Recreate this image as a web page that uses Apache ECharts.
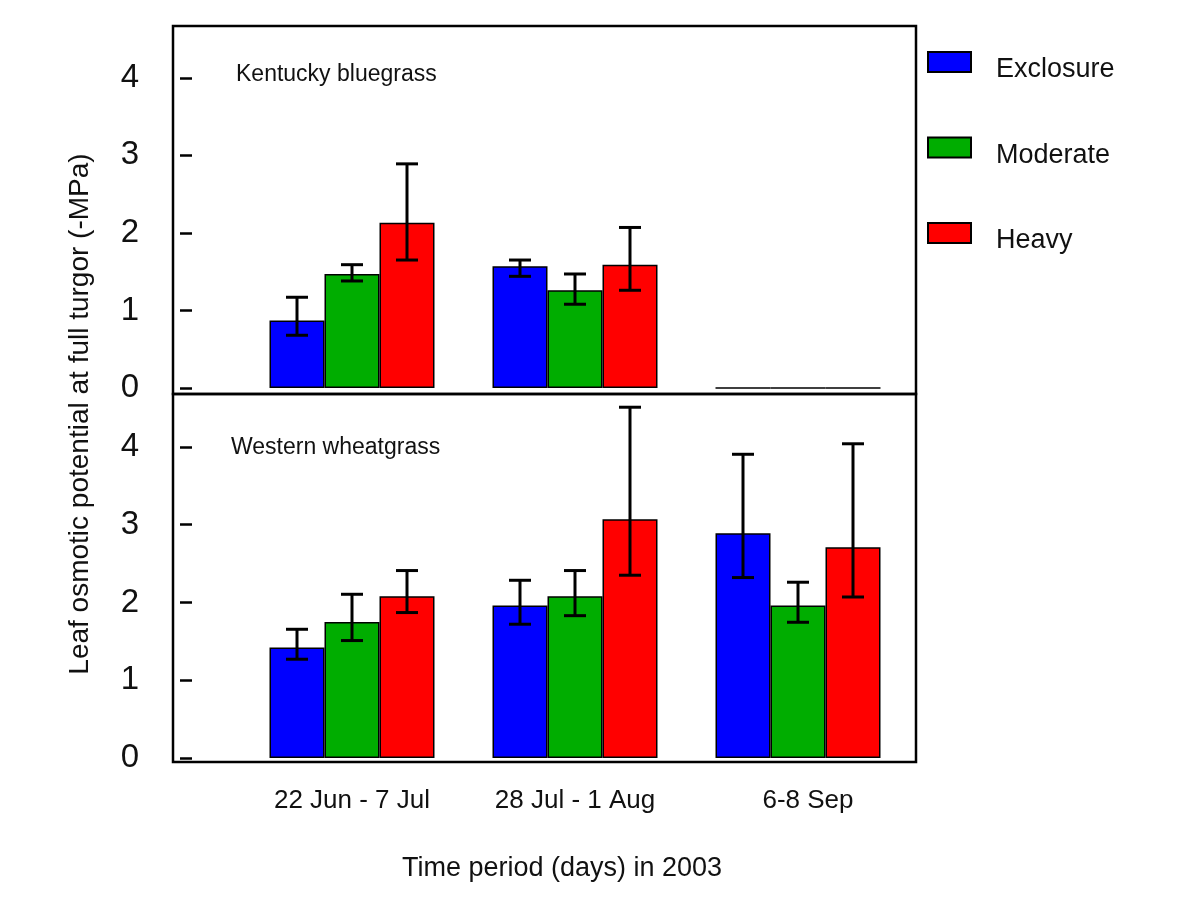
<!DOCTYPE html>
<html>
<head>
<meta charset="utf-8">
<title>Leaf osmotic potential at full turgor</title>
<script src="https://cdn.jsdelivr.net/npm/echarts@6/dist/echarts.min.js"></script>
<style>
  html, body { margin: 0; padding: 0; background: #fff; }
  #chart { width: 1204px; height: 898px; }
</style>
</head>
<body>
<div id="chart"></div>
<script>
// Sampling periods and grazing treatments
const categories = ['22 Jun - 7 Jul', '28 Jul - 1 Aug', '6-8 Sep'];
const treatments = ['Exclosure', 'Moderate', 'Heavy'];
const yTicks = [0, 1, 2, 3, 4];

// Kentucky bluegrass: means (-MPa)
const kbExclosure = [0.87, 1.57, 0];
const kbModerate  = [1.47, 1.26, 0];
const kbHeavy     = [2.13, 1.59, 0];
// Kentucky bluegrass: error bar [low, high]
const kbExclosureErr = [[0.68, 1.17], [1.44, 1.65], null];
const kbModerateErr  = [[1.38, 1.59], [1.08, 1.47], null];
const kbHeavyErr     = [[1.65, 2.89], [1.26, 2.07], null];

// Western wheatgrass: means (-MPa)
const wwExclosure = [1.42, 1.96, 2.89];
const wwModerate  = [1.75, 2.08, 1.96];
const wwHeavy     = [2.08, 3.07, 2.71];
// Western wheatgrass: error bar [low, high]
const wwExclosureErr = [[1.27, 1.655], [1.72, 2.285], [2.32, 3.905]];
const wwModerateErr  = [[1.51, 2.105], [1.83, 2.41], [1.745, 2.26]];
const wwHeavyErr     = [[1.87, 2.41], [2.35, 4.51], [2.07, 4.04]];

const colors = ['#0000FF', '#00AD00', '#FF0000'];
const BAR_W = 55;
const FONT = '"Liberation Sans", Arial, sans-serif';
const TEXT = '#111';

function barSeries(name, data, idx, axisIdx) {
  return {
    type: 'bar',
    name: name,
    xAxisIndex: axisIdx,
    yAxisIndex: axisIdx,
    data: data,
    barWidth: BAR_W,
    barGap: '0%',
    itemStyle: { color: colors[idx], borderColor: '#000', borderWidth: 1.5 },
    emphasis: { disabled: true },
    silent: true
  };
}

function errSeries(errs, idx, axisIdx) {
  const data = [];
  errs.forEach(function (e, i) { if (e) data.push([i, e[0], e[1]]); });
  const offset = (idx - 1) * BAR_W;
  return {
    type: 'custom',
    xAxisIndex: axisIdx,
    yAxisIndex: axisIdx,
    data: data,
    silent: true,
    z: 5,
    renderItem: function (params, api) {
      const lo = api.coord([api.value(0), api.value(1)]);
      const hi = api.coord([api.value(0), api.value(2)]);
      const x = lo[0] + offset;
      const cap = 11;
      const st = { stroke: '#000', lineWidth: 3 };
      return {
        type: 'group',
        children: [
          { type: 'line', shape: { x1: x, y1: lo[1], x2: x, y2: hi[1] }, style: st },
          { type: 'line', shape: { x1: x - cap, y1: hi[1], x2: x + cap, y2: hi[1] }, style: st },
          { type: 'line', shape: { x1: x - cap, y1: lo[1], x2: x + cap, y2: lo[1] }, style: st }
        ]
      };
    }
  };
}

function valueAxis(gridIndex) {
  return {
    type: 'value',
    gridIndex: gridIndex,
    min: 0,
    max: 4.5,
    position: 'left',
    offset: 60.5,
    splitLine: { show: false },
    axisLine: { show: false },
    axisTick: {
      show: true, inside: true, length: 12, customValues: yTicks,
      lineStyle: { color: '#000', width: 2.5 }
    },
    axisLabel: {
      customValues: yTicks, margin: 41,
      fontSize: 33, fontFamily: FONT, color: TEXT
    }
  };
}

function catAxis(gridIndex, showLabels) {
  return {
    type: 'category',
    gridIndex: gridIndex,
    data: categories,
    axisLine: { show: false },
    axisTick: { show: false },
    axisLabel: {
      show: showLabels, margin: 30,
      fontSize: 26, fontFamily: FONT, color: TEXT,
      // the last period label sits a little right of its group centre
      formatter: function (value, index) {
        return index === categories.length - 1 ? '{shift|' + value + '}' : value;
      },
      rich: {
        shift: { fontSize: 26, fontFamily: FONT, color: TEXT, padding: [0, 0, 0, 20] }
      }
    }
  };
}

const frameStyle = { show: true, borderColor: '#000', borderWidth: 2.5, backgroundColor: 'transparent' };

const option = {
  animation: false,
  backgroundColor: '#fff',
  grid: [
    { left: 240.5, top: 39, width: 669, height: 349 },
    { left: 240.5, top: 408, width: 669, height: 350 },
    Object.assign({ left: 173, top: 26, width: 743, height: 368 }, frameStyle),
    Object.assign({ left: 173, top: 394, width: 743, height: 368 }, frameStyle)
  ],
  xAxis: [
    catAxis(0, false),
    catAxis(1, true),
    { type: 'value', gridIndex: 2, show: false },
    { type: 'value', gridIndex: 3, show: false }
  ],
  yAxis: [
    valueAxis(0),
    valueAxis(1),
    { type: 'value', gridIndex: 2, show: false },
    { type: 'value', gridIndex: 3, show: false }
  ],
  legend: {
    orient: 'vertical',
    left: 922,
    top: 46,
    data: treatments,
    icon: 'rect',
    itemWidth: 43,
    itemHeight: 20,
    itemGap: 53,
    selectedMode: false,
    formatter: '{t|{name}}',
    textStyle: {
      fontSize: 27, fontFamily: FONT, color: TEXT,
      padding: [0, 0, 0, 20],
      rich: {
        t: { fontSize: 27, fontFamily: FONT, color: TEXT, padding: [16, 0, 0, 0] }
      }
    }
  },
  graphic: [
    {
      type: 'text', x: 236, y: 75,
      style: { text: 'Kentucky bluegrass', fontSize: 23, fontFamily: FONT, fill: TEXT, verticalAlign: 'middle' }
    },
    {
      type: 'text', x: 231, y: 448,
      style: { text: 'Western wheatgrass', fontSize: 23, fontFamily: FONT, fill: TEXT, verticalAlign: 'middle' }
    },
    {
      type: 'text', x: 562, y: 869,
      style: { text: 'Time period (days) in 2003', fontSize: 27, fontFamily: FONT, fill: TEXT, align: 'center', verticalAlign: 'middle' }
    },
    {
      type: 'text', x: 80, y: 414, rotation: Math.PI / 2,
      style: { text: 'Leaf osmotic potential at full turgor (-MPa)', fontSize: 28, fontFamily: FONT, fill: TEXT, align: 'center', verticalAlign: 'middle' }
    }
  ],
  series: [
    barSeries('Exclosure', kbExclosure, 0, 0),
    barSeries('Moderate', kbModerate, 1, 0),
    barSeries('Heavy', kbHeavy, 2, 0),
    barSeries('Exclosure', wwExclosure, 0, 1),
    barSeries('Moderate', wwModerate, 1, 1),
    barSeries('Heavy', wwHeavy, 2, 1),
    errSeries(kbExclosureErr, 0, 0),
    errSeries(kbModerateErr, 1, 0),
    errSeries(kbHeavyErr, 2, 0),
    errSeries(wwExclosureErr, 0, 1),
    errSeries(wwModerateErr, 1, 1),
    errSeries(wwHeavyErr, 2, 1)
  ]
};

const chart = echarts.init(document.getElementById('chart'), null, { renderer: 'canvas' });
chart.setOption(option);
</script>
</body>
</html>
